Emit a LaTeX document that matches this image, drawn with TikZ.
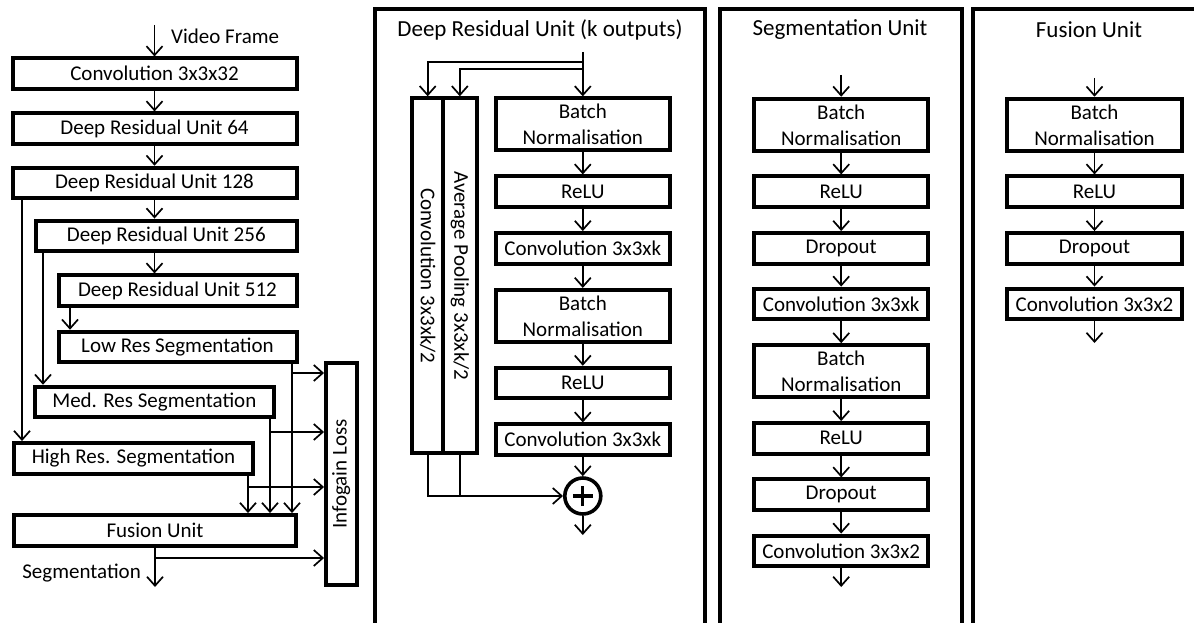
\documentclass[tikz,border=0pt]{standalone}
\usepackage{fontspec}
\setmainfont{Carlito}
\usetikzlibrary{arrows.meta}
\begin{document}
\begin{tikzpicture}[x=1pt,y=-1pt,
  box/.style={draw, line width=4pt, inner sep=0pt, align=center,
    font=\fontsize{21}{26}\selectfont, minimum height=30.5pt},
  ttl/.style={font=\fontsize{23}{28}\selectfont, inner sep=0pt},
  lbl/.style={font=\fontsize{21}{26}\selectfont, inner sep=0pt},
  arr/.style={line width=1.7pt, -{Straight Barb[length=9pt,width=16pt,line width=1.7pt]}},
  ln/.style={line width=1.7pt},
  panel/.style={draw, line width=4pt},
]
\useasboundingbox (0,0) rectangle (1194,623);
\clip (0,0) rectangle (1194,623);

% ---------- left column ----------
\node[box, minimum width=284pt] (c1) at (154.5,73.7) {Convolution 3x3x32};
\node[box, minimum width=284pt] (d64) at (154.5,128.7) {Deep Residual Unit 64};
\node[box, minimum width=284pt] (d128) at (154.5,183) {Deep Residual Unit 128};
\node[box, minimum width=260.5pt] (d256) at (166.3,235.8) {Deep Residual Unit 256};
\node[box, minimum width=238pt] (d512) at (177.5,290.7) {Deep Residual Unit 512};
\node[box, minimum width=238pt] (low) at (177.5,347) {Low Res Segmentation};
\node[box, minimum width=238.5pt] (med) at (154.3,402) {Med. Res Segmentation};
\node[box, minimum width=239.5pt] (high) at (133.5,458.3) {High Res. Segmentation};
\node[box, minimum width=282.5pt] (fus) at (155,530.3) {Fusion Unit};
\node[box, rotate=90, minimum width=222.6pt, minimum height=30.5pt] (info) at (341.3,474) {Infogain Loss};

\coordinate (vin) at (154.5,25);
\node[lbl, anchor=west] (vf) at (171,36) {Video Frame};
\draw[arr] (vin) -- (c1.north);
\draw[arr] (c1.south) -- (d64.north);
\draw[arr] (d64.south) -- (d128.north);
\draw[arr] (d128.south) -- (d128.south |- d256.north);
\draw[arr] (d256.south -| c1.south) -- (d512.north -| c1.south);

\coordinate (x70) at (70,0);
\coordinate (x22) at (22,0);
\coordinate (x43) at (43,0);
\coordinate (x292) at (292,0);
\coordinate (x270) at (270,0);
\coordinate (x248) at (248,0);
\draw[arr] (d512.south -| x70) -- (low.north -| x70);
\draw[arr] (d128.south -| x22) -- (high.north -| x22);
\draw[arr] (d256.south -| x43) -- (med.north -| x43);

\draw[arr] (low.south -| x292) -- (fus.north -| x292);
\draw[arr] (med.south -| x270) -- (fus.north -| x270);
\draw[arr] (high.south -| x248) -- (fus.north -| x248);

\coordinate (b1) at (292,373);
\coordinate (b2) at (270,432);
\coordinate (b3) at (248,487);
\coordinate (b4) at (155,558);
\draw[arr] (b1) -- (b1 -| info.north);
\draw[arr] (b2) -- (b2 -| info.north);
\draw[arr] (b3) -- (b3 -| info.north);
\draw[arr] (b4) -- (b4 -| info.north);

\coordinate (segout) at (155,587);
\draw[arr] (fus.south) -- (segout);
\node[lbl, anchor=east] (segl) at (141,573) {Segmentation};

% ---------- Deep Residual Unit panel ----------
\draw[panel] (375.3,8.7) rectangle (705.3,700);
\node[ttl] (t1) at (540,30) {Deep Residual Unit (k outputs)};

\node[box, minimum width=174.3pt, minimum height=51.7pt] (bn1) at (582.8,124.2) {Batch\\Normalisation};
\node[box, minimum width=174.3pt] (r1) at (582.8,191.7) {ReLU};
\node[box, minimum width=174.3pt] (cv1) at (582.8,248.3) {Convolution 3x3xk};
\node[box, minimum width=174.3pt, minimum height=51.7pt] (bn2) at (582.8,315.8) {Batch\\Normalisation};
\node[box, minimum width=174.3pt] (r2) at (582.8,383) {ReLU};
\node[box, minimum width=174.3pt] (cv2) at (582.8,439.7) {Convolution 3x3xk};
\node[draw, circle, line width=3.6pt, minimum size=36pt, inner sep=0pt] (plus) at (582.8,496) {};
\draw[line width=3.2pt] ([xshift=-10pt]plus.center) -- ([xshift=10pt]plus.center);
\draw[line width=3.2pt] ([yshift=-10pt]plus.center) -- ([yshift=10pt]plus.center);

\node[box, rotate=-90, minimum width=355pt, minimum height=30.7pt] (cvk) at (427.7,275.8) {Convolution 3x3xk/2};
\node[box, rotate=-90, minimum width=355pt, minimum height=33.6pt] (avp) at (459.8,275.8) {Average Pooling 3x3xk/2};

\coordinate (din) at (582.8,52);
\coordinate (j1) at (582.8,62);
\coordinate (j2) at (582.8,69);
\coordinate (dout) at (582.8,535);
\draw[arr] (din) -- (bn1.north);
\draw[arr] (j1) -| (cvk.west);
\draw[arr] (j2) -| (avp.west);
\draw[arr] (bn1.south) -- (r1.north);
\draw[arr] (r1.south) -- (cv1.north);
\draw[arr] (cv1.south) -- (bn2.north);
\draw[arr] (bn2.south) -- (r2.north);
\draw[arr] (r2.south) -- (cv2.north);
\draw[arr] (cv2.south) -- (plus.north);
\draw[arr] (plus.south) -- (dout);
\draw[arr] (cvk.east) |- (plus.west);
\draw[ln] (avp.east) -- (avp.east |- plus.west);

% ---------- Segmentation Unit panel ----------
\draw[panel] (719.5,8.7) rectangle (962,700);
\node[ttl] (t2) at (840,30) {Segmentation Unit};
\node[box, minimum width=174.3pt, minimum height=52.5pt] (s1) at (841.2,125) {Batch\\Normalisation};
\node[box, minimum width=174.3pt] (s2) at (841.2,191.7) {ReLU};
\node[box, minimum width=174.3pt] (s3) at (841.2,248.3) {Dropout};
\node[box, minimum width=174.3pt] (s4) at (841.2,303.8) {Convolution 3x3xk};
\node[box, minimum width=174.3pt, minimum height=52pt] (s5) at (841.2,371.2) {Batch\\Normalisation};
\node[box, minimum width=174.3pt] (s6) at (841.2,438.3) {ReLU};
\node[box, minimum width=174.3pt] (s7) at (841.2,494.7) {Dropout};
\node[box, minimum width=174.3pt] (s8) at (841.2,550.8) {Convolution 3x3x2};
\coordinate (sin) at (841.2,75);
\coordinate (sout) at (841.2,587);
\draw[arr] (sin) -- (s1.north);
\draw[arr] (s1.south) -- (s2.north);
\draw[arr] (s2.south) -- (s3.north);
\draw[arr] (s3.south) -- (s4.north);
\draw[arr] (s4.south) -- (s5.north);
\draw[arr] (s5.south) -- (s6.north);
\draw[arr] (s6.south) -- (s7.north);
\draw[arr] (s7.south) -- (s8.north);
\draw[arr] (s8.south) -- (sout);

% ---------- Fusion Unit panel ----------
\draw[panel] (972.8,8.7) rectangle (1250,700);
\node[ttl] (t3) at (1089,30) {Fusion Unit};
\node[box, minimum width=174.3pt, minimum height=52.5pt] (f1) at (1094.5,125) {Batch\\Normalisation};
\node[box, minimum width=174.3pt] (f2) at (1094.5,191.7) {ReLU};
\node[box, minimum width=174.3pt] (f3) at (1094.5,248.3) {Dropout};
\node[box, minimum width=174.3pt] (f4) at (1094.5,303.8) {Convolution 3x3x2};
\coordinate (fin) at (1094.5,78);
\coordinate (fout) at (1094.5,343);
\draw[arr] (fin) -- (f1.north);
\draw[arr] (f1.south) -- (f2.north);
\draw[arr] (f2.south) -- (f3.north);
\draw[arr] (f3.south) -- (f4.north);
\draw[arr] (f4.south) -- (fout);
\end{tikzpicture}
\end{document}
